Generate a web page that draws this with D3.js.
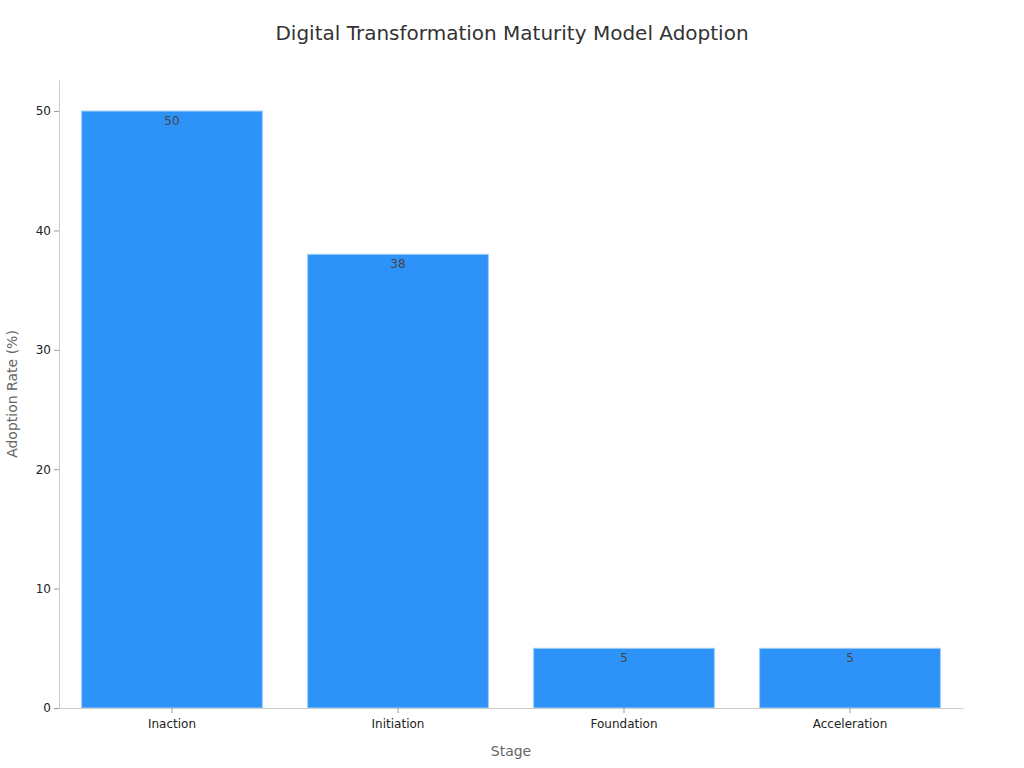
<!DOCTYPE html>
<html>
<head>
<meta charset="utf-8">
<script src="https://cdn.jsdelivr.net/npm/d3@7"></script>
<style>
  body { margin: 0; background: #fff; }
  text { font-family: "DejaVu Sans", sans-serif; }
</style>
</head>
<body>
<svg id="chart" width="1024" height="768"></svg>
<script>
// chart data
var stages = ['Inaction', 'Initiation', 'Foundation', 'Acceleration']
var adoption = [50, 38, 5, 5]
var yTicks = [0, 10, 20, 30, 40, 50]

var margin = { top: 80, right: 61, bottom: 60, left: 59 }
var width = 1024, height = 768

var svg = d3.select('#chart')

var xScale = d3.scaleBand()
  .domain(stages)
  .range([margin.left, width - margin.right])
  .paddingInner(0.2)
  .paddingOuter(0.1)

var yScale = d3.scaleLinear()
  .domain([0, 52.6])
  .range([height - margin.bottom, margin.top])

// title
svg.append('text')
  .attr('x', 512).attr('y', 40)
  .attr('text-anchor', 'middle')
  .attr('font-size', 20)
  .attr('fill', '#333')
  .text('Digital Transformation Maturity Model Adoption')

// bars
svg.selectAll('rect.bar')
  .data(adoption)
  .enter().append('rect')
  .attr('class', 'bar')
  .attr('x', (d, i) => xScale(stages[i]))
  .attr('y', d => yScale(d))
  .attr('width', xScale.bandwidth())
  .attr('height', d => yScale(0) - yScale(d))
  .attr('fill', '#2e93f8')
  .attr('stroke', '#9fcdfb')
  .attr('stroke-width', 1)

// value labels
svg.selectAll('text.val')
  .data(adoption)
  .enter().append('text')
  .attr('class', 'val')
  .attr('x', (d, i) => xScale(stages[i]) + xScale.bandwidth() / 2)
  .attr('y', d => yScale(d) + 14)
  .attr('text-anchor', 'middle')
  .attr('font-size', 12)
  .attr('fill', '#444')
  .text(d => d)

// axes
var xAxis = d3.axisBottom(xScale).tickSize(5).tickPadding(6).tickSizeOuter(0)
var yAxis = d3.axisLeft(yScale).tickValues(yTicks).tickSize(5).tickSizeOuter(0)

var gx = svg.append('g')
  .attr('transform', 'translate(0,' + (height - margin.bottom) + ')')
  .call(xAxis)
gx.select('.domain').attr('stroke', '#ccc')
gx.selectAll('.tick line').attr('stroke', '#999')
gx.selectAll('.tick text').attr('font-size', 12).attr('fill', '#222')
  .attr('font-family', '"DejaVu Sans", sans-serif')

var gy = svg.append('g')
  .attr('transform', 'translate(' + margin.left + ',0)')
  .call(yAxis)
gy.select('.domain').attr('stroke', '#ccc')
gy.selectAll('.tick line').attr('stroke', '#999')
gy.selectAll('.tick text').attr('font-size', 12).attr('fill', '#222')
  .attr('font-family', '"DejaVu Sans", sans-serif')

// axis titles
svg.append('text')
  .attr('x', (margin.left + width - margin.right) / 2)
  .attr('y', 756)
  .attr('text-anchor', 'middle')
  .attr('font-size', 14)
  .attr('fill', '#666')
  .text('Stage')

svg.append('text')
  .attr('transform', 'translate(17,' + ((margin.top + height - margin.bottom) / 2) + ') rotate(-90)')
  .attr('text-anchor', 'middle')
  .attr('font-size', 14)
  .attr('fill', '#666')
  .text('Adoption Rate (%)')
</script>
</body>
</html>
